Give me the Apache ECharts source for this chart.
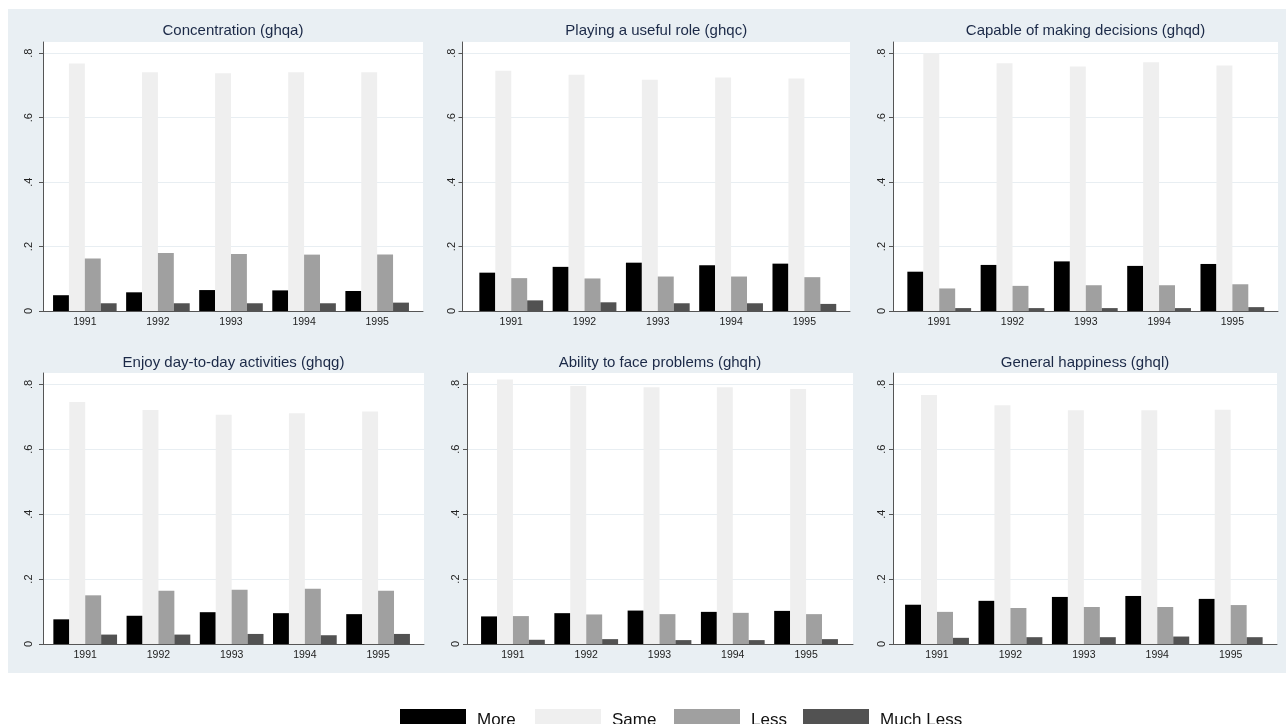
<!DOCTYPE html>
<html>
<head>
<meta charset="utf-8">
<title>GHQ responses by wave</title>
<script src="https://cdn.jsdelivr.net/npm/echarts@6/dist/echarts.min.js"></script>
<style>
  html, body { margin: 0; padding: 0; background: #ffffff; }
  #chart { width: 1287px; height: 724px; }
</style>
</head>
<body>
<div id="chart"></div>
<script>
// Waves and response categories
const years = ['1991', '1992', '1993', '1994', '1995'];
const responses = ['More', 'Same', 'Less', 'Much Less'];
const responseColors = ['#000000', '#efefef', '#a0a0a0', '#525252'];
const yTicks = [0, 0.2, 0.4, 0.6, 0.8];

const panelTitles = [
  'Concentration (ghqa)',
  'Playing a useful role (ghqc)',
  'Capable of making decisions (ghqd)',
  'Enjoy day-to-day activities (ghqg)',
  'Ability to face problems (ghqh)',
  'General happiness (ghql)'
];

// Share of respondents per wave: rows are More, Same, Less, Much Less
const ghqa = [
  [0.049, 0.058, 0.065, 0.064, 0.062],
  [0.768, 0.741, 0.738, 0.741, 0.741],
  [0.163, 0.180, 0.177, 0.175, 0.175],
  [0.024, 0.024, 0.024, 0.024, 0.026]
];
const ghqc = [
  [0.119, 0.137, 0.150, 0.142, 0.147],
  [0.746, 0.733, 0.718, 0.725, 0.722],
  [0.102, 0.101, 0.107, 0.107, 0.105],
  [0.033, 0.027, 0.024, 0.024, 0.022]
];
const ghqd = [
  [0.122, 0.143, 0.154, 0.140, 0.146],
  [0.800, 0.769, 0.759, 0.772, 0.762],
  [0.070, 0.078, 0.080, 0.080, 0.083],
  [0.009, 0.009, 0.009, 0.009, 0.012]
];
const ghqg = [
  [0.076, 0.087, 0.098, 0.095, 0.092],
  [0.746, 0.721, 0.706, 0.711, 0.716],
  [0.150, 0.164, 0.167, 0.170, 0.164],
  [0.029, 0.029, 0.031, 0.027, 0.031]
];
const ghqh = [
  [0.085, 0.095, 0.103, 0.099, 0.102],
  [0.815, 0.795, 0.791, 0.791, 0.786],
  [0.086, 0.091, 0.092, 0.096, 0.092],
  [0.013, 0.015, 0.012, 0.012, 0.015]
];
const ghql = [
  [0.121, 0.133, 0.145, 0.148, 0.139],
  [0.767, 0.736, 0.720, 0.720, 0.722],
  [0.099, 0.111, 0.114, 0.114, 0.120],
  [0.019, 0.021, 0.021, 0.023, 0.021]
];
const panelData = [ghqa, ghqc, ghqd, ghqg, ghqh, ghql];

// Layout of each small multiple: plot box, bar band, label margin
const panels = [
  { plot: [43, 423],    bars: [48.3, 413.7],  top: 42,  bottom: 311, titleY: 23,  yMargin: 9 },
  { plot: [462.5, 850], bars: [474.6, 841],   top: 42,  bottom: 311, titleY: 23,  yMargin: 5.5 },
  { plot: [893, 1278],  bars: [902.6, 1269],  top: 42,  bottom: 311, titleY: 23,  yMargin: 5.5 },
  { plot: [43, 424],    bars: [48.6, 414.7],  top: 373, bottom: 644, titleY: 355, yMargin: 9 },
  { plot: [467, 853],   bars: [476.3, 842.7], top: 373, bottom: 644, titleY: 355, yMargin: 5.5 },
  { plot: [893, 1277],  bars: [900.3, 1267.4],top: 373, bottom: 644, titleY: 355, yMargin: 5.5 }
];

const FONT = 'Liberation Sans, Arial, Helvetica, sans-serif';
const Y_MAX = 0.835;
const AXIS_COLOR = '#555555';
const GRID_LINE = '#e8eef2';

const grids = [], xAxes = [], yAxes = [], series = [], titles = [];

panels.forEach((p, i) => {
  const frame = i * 2, band = i * 2 + 1;
  // plot region with axes and gridlines
  grids.push({
    left: p.plot[0], width: p.plot[1] - p.plot[0],
    top: p.top, height: p.bottom - p.top,
    show: true, backgroundColor: '#ffffff', borderWidth: 0
  });
  // band holding the bar groups
  grids.push({
    left: p.bars[0], width: p.bars[1] - p.bars[0],
    top: p.top, height: p.bottom - p.top
  });

  xAxes.push({
    gridIndex: frame, type: 'value', min: 0, max: 1,
    axisLine: { show: true, onZero: false, lineStyle: { color: AXIS_COLOR, width: 1 } },
    axisTick: { show: false }, axisLabel: { show: false }, splitLine: { show: false }
  });
  xAxes.push({
    gridIndex: band, type: 'category', data: years,
    axisLine: { show: false }, axisTick: { show: false },
    axisLabel: { color: '#222222', fontFamily: FONT, fontSize: 10.5, margin: 6 },
    splitLine: { show: false }
  });

  yAxes.push({
    gridIndex: frame, type: 'value', min: 0, max: Y_MAX,
    axisLine: { show: true, lineStyle: { color: AXIS_COLOR, width: 1 } },
    axisTick: { show: true, length: 4, customValues: yTicks, lineStyle: { color: AXIS_COLOR } },
    axisLabel: {
      customValues: yTicks, rotate: 90, margin: p.yMargin,
      color: '#222222', fontFamily: FONT, fontSize: 11,
      formatter: v => (v === 0 ? '0' : String(v).replace(/^0/, ''))
    },
    splitLine: { show: true, lineStyle: { color: GRID_LINE, width: 1 } }
  });
  yAxes.push({
    gridIndex: band, type: 'value', min: 0, max: Y_MAX,
    axisLine: { show: false }, axisTick: { show: false },
    axisLabel: { show: false }, splitLine: { show: false }
  });

  panelData[i].forEach((values, r) => {
    series.push({
      type: 'bar', name: responses[r],
      xAxisIndex: band, yAxisIndex: band,
      data: values,
      barGap: '0%', barCategoryGap: '13%',
      itemStyle: { color: responseColors[r] },
      emphasis: { disabled: true },
      animation: false
    });
  });

  titles.push({
    text: panelTitles[i],
    left: (p.plot[0] + p.plot[1]) / 2, top: p.titleY,
    textAlign: 'center', padding: 0,
    textStyle: { color: '#1b2947', fontFamily: FONT, fontSize: 15, fontWeight: 'normal' }
  });
});

// Key along the bottom edge
const legendLeft = [400, 535, 674, 803];
const legends = responses.map((name, r) => ({
  data: [name], left: legendLeft[r], top: 709, padding: 0,
  icon: 'rect', itemWidth: 66, itemHeight: 22,
  selectedMode: false,
  textStyle: { color: '#111111', fontFamily: FONT, fontSize: 17, padding: [0, 0, 0, 6] }
}));

const chart = echarts.init(document.getElementById('chart'), null, { renderer: 'canvas' });
chart.setOption({
  animation: false,
  backgroundColor: '#ffffff',
  graphic: [{
    type: 'rect', z: -10, silent: true,
    shape: { x: 8, y: 9, width: 1278, height: 664 },
    style: { fill: '#e9eff3' }
  }],
  title: titles,
  legend: legends,
  grid: grids,
  xAxis: xAxes,
  yAxis: yAxes,
  series: series
});
</script>
</body>
</html>
